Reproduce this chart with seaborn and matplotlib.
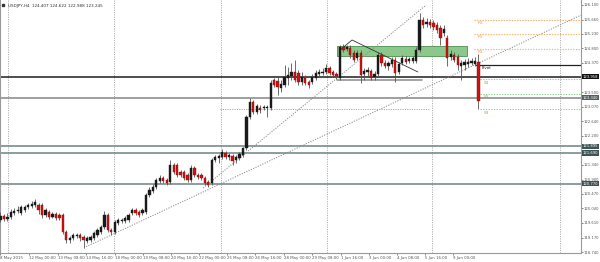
import numpy as np
import matplotlib
matplotlib.use("Agg")
import matplotlib.pyplot as plt
import matplotlib.transforms as mtransforms
from matplotlib.patches import Rectangle
import seaborn as sns

# ---------------- data ----------------
title = "USDJPY,H4  124.407 124.622 122.988 123.245"

opens = [119.70, 119.82, 119.73, 119.79, 119.91, 119.97, 119.91, 120.00, 120.08, 120.11,
         120.14, 120.14, 120.14, 119.85, 119.94, 119.79, 119.88, 119.85, 119.85, 119.34,
         119.10, 119.16, 119.22, 119.25, 119.19, 119.07, 119.10, 119.16, 119.25, 119.34,
         119.49, 119.85, 119.40, 119.34, 119.61, 119.67, 119.67, 119.70, 119.91, 120.00,
         119.94, 119.91, 119.94, 120.44, 120.56, 120.68, 120.86, 120.95, 120.89, 120.83,
         121.33, 121.33, 121.13, 121.13, 121.04, 120.89, 121.24, 121.04, 121.04, 120.95,
         120.83, 120.80, 121.48, 121.54, 121.57, 121.69, 121.57, 121.60, 121.48, 121.54,
         121.63, 121.84, 122.76, 123.21, 122.91, 123.03, 123.03, 123.03, 123.03, 123.86,
         123.83, 123.62, 123.71, 123.92, 123.98, 124.10, 124.07, 123.80, 123.92, 123.80,
         123.80, 123.92, 124.04, 124.07, 124.10, 124.22, 124.10, 124.04, 123.92, 124.84,
         124.78, 124.81, 124.66, 124.52, 124.66, 124.04, 124.10, 124.13, 123.95, 124.04,
         124.60, 124.37, 124.28, 124.34, 124.46, 124.10, 124.37, 124.49, 124.43, 124.43,
         124.43, 124.75, 125.65, 125.53, 125.59, 125.56, 125.50, 125.41, 125.26, 125.11,
         124.55, 124.60, 124.55, 124.28, 124.31, 124.34, 124.37, 124.34, 124.407]

closes = [119.82, 119.73, 119.79, 119.94, 119.97, 120.00, 120.08, 120.08, 120.14, 120.17,
          120.23, 120.00, 119.85, 120.00, 119.79, 119.88, 119.76, 119.76, 119.34, 119.10,
          119.16, 119.25, 119.25, 119.16, 119.10, 119.16, 119.19, 119.31, 119.40, 119.49,
          119.85, 119.40, 119.34, 119.64, 119.70, 119.70, 119.76, 119.85, 120.00, 119.91,
          119.85, 120.00, 120.44, 120.59, 120.68, 120.89, 120.95, 120.86, 120.80, 121.33,
          121.13, 121.04, 121.04, 120.95, 120.89, 121.24, 121.04, 120.98, 120.95, 120.80,
          120.74, 121.48, 121.57, 121.60, 121.72, 121.57, 121.63, 121.45, 121.57, 121.66,
          121.84, 122.76, 123.21, 122.91, 123.09, 122.97, 123.06, 123.06, 123.77, 123.71,
          123.65, 123.74, 123.95, 124.01, 124.10, 123.86, 123.80, 123.95, 123.77, 123.71,
          123.95, 124.07, 124.10, 124.10, 124.22, 124.07, 124.01, 123.98, 124.84, 124.75,
          124.84, 124.60, 124.46, 124.66, 124.01, 124.13, 124.16, 123.92, 124.04, 124.60,
          124.37, 124.28, 124.37, 124.46, 124.07, 124.34, 124.52, 124.40, 124.49, 124.52,
          124.75, 125.65, 125.50, 125.59, 125.50, 125.44, 125.35, 125.11, 125.38, 124.52,
          124.63, 124.46, 124.31, 124.37, 124.40, 124.40, 124.43, 124.43, 123.245]

highs = [119.94, 119.88, 119.91, 120.03, 120.06, 120.11, 120.14, 120.14, 120.20, 120.26,
         120.32, 120.20, 120.20, 120.06, 120.00, 119.94, 119.94, 119.91, 119.91, 119.40,
         119.22, 119.31, 119.31, 119.31, 119.25, 119.22, 119.25, 119.37, 119.46, 119.55,
         119.97, 119.91, 119.46, 119.70, 119.76, 119.76, 119.82, 119.91, 120.06, 120.06,
         120.00, 120.06, 120.50, 120.68, 120.77, 120.95, 121.04, 121.01, 120.95, 121.48,
         121.39, 121.39, 121.19, 121.19, 121.10, 121.33, 121.30, 121.10, 121.10, 121.01,
         120.89, 121.54, 121.63, 121.66, 121.81, 121.75, 121.69, 121.66, 121.63, 121.72,
         121.87, 122.82, 123.33, 123.27, 123.15, 123.12, 123.12, 123.12, 123.86, 123.92,
         123.98, 123.86, 124.31, 124.25, 124.37, 124.46, 124.16, 124.10, 124.01, 123.86,
         124.04, 124.16, 124.19, 124.22, 124.34, 124.28, 124.16, 124.10, 124.90, 124.93,
         124.90, 124.90, 124.75, 124.75, 124.75, 124.22, 124.25, 124.19, 124.13, 124.69,
         124.69, 124.46, 124.43, 124.55, 124.55, 124.40, 124.60, 124.58, 124.55, 124.58,
         124.84, 125.85, 125.73, 125.70, 125.68, 125.65, 125.59, 125.50, 125.50, 125.20,
         124.75, 124.69, 124.63, 124.46, 124.49, 124.52, 124.52, 124.55, 124.622]

lows = [119.64, 119.67, 119.67, 119.73, 119.85, 119.91, 119.85, 119.94, 120.03, 120.06,
        120.08, 119.88, 119.76, 119.79, 119.73, 119.76, 119.70, 119.70, 119.28, 119.01,
        119.01, 119.10, 119.16, 119.07, 118.87, 119.01, 119.04, 119.10, 119.19, 119.28,
        119.43, 119.34, 119.25, 119.28, 119.55, 119.61, 119.61, 119.64, 119.85, 119.85,
        119.79, 119.85, 119.88, 120.38, 120.50, 120.62, 120.80, 120.80, 120.74, 120.77,
        121.07, 120.98, 120.98, 120.89, 120.83, 120.83, 120.98, 120.92, 120.89, 120.74,
        120.68, 120.74, 121.42, 121.39, 121.51, 121.51, 121.48, 121.33, 121.39, 121.48,
        121.57, 121.78, 122.70, 122.85, 122.85, 122.88, 122.97, 122.76, 122.97, 123.65,
        123.42, 123.50, 123.65, 123.71, 123.86, 123.80, 123.71, 123.71, 123.71, 123.62,
        123.74, 123.86, 123.98, 124.01, 124.04, 124.01, 123.95, 123.89, 123.86, 124.69,
        124.72, 124.52, 124.40, 124.46, 123.77, 123.86, 123.98, 123.86, 123.86, 123.98,
        124.28, 124.22, 124.16, 124.25, 123.80, 124.04, 124.31, 124.34, 124.37, 124.37,
        124.37, 124.69, 125.41, 125.44, 125.41, 125.35, 125.26, 124.90, 125.17, 124.28,
        124.46, 124.40, 124.16, 123.86, 124.16, 124.25, 124.31, 124.28, 122.988]

x_labels = ["8 May 2015", "12 May 00:00", "13 May 08:00", "14 May 16:00", "18 May 00:00",
            "19 May 08:00", "20 May 16:00", "22 May 00:00", "25 May 08:00", "26 May 16:00",
            "28 May 00:00", "29 May 08:00", "1 Jun 16:00", "3 Jun 00:00", "4 Jun 08:00",
            "5 Jun 16:00", "9 Jun 00:00"]
x_label_bars = [0, 8.2, 16.6, 24.7, 33.1, 41.1, 49.2, 57.3, 65.4, 73.5, 81.8, 89.9,
                98.3, 106.4, 114.5, 122.5, 130.6]

y_ticks = [126.100, 125.660, 125.230, 124.800, 124.370, 123.500, 123.070, 122.640,
           122.200, 121.340, 120.900, 120.470, 120.040, 119.610, 119.170, 118.740]

# key horizontal levels
level_prices = [123.958, 123.340, 121.895, 121.690, 120.770]
level_labels = ["123.958", "123.340", "121.895", "121.690", "120.770"]

pivot_names = ["R3", "R2", "R1", "Pivot", "S1", "S2", "S3"]
pivot_prices = [125.65, 125.23, 124.78, 124.31, 123.876, 123.44, 122.99]

zone_low, zone_high = 124.58, 124.87
wedge_prices = [124.75, 125.05, 124.10]
flat_line_price = 123.86
purple_price = 122.99
trend_a_prices = [120.65, 126.09]
trend_b_prices = [118.90, 125.79]

# ---------------- figure ----------------
sns.set_theme(style="white")
plt.rcParams["font.family"] = ["DejaVu Sans"]

fig = plt.figure(figsize=(6.0, 2.62), dpi=100)
ax = fig.add_axes([0.0, 9.5 / 262, 581 / 600, 252.5 / 262])
ax.set_xlim(-0.14, 167.6)
ax.set_ylim(118.73, 126.24)

n = len(opens)
idx = np.arange(n)
o = np.array(opens); c = np.array(closes); h = np.array(highs); l = np.array(lows)

# vertical dotted grid
for gx in [2.2, 32.8, 63.7, 94.3, 124.6, 161.5]:
    ax.axvline(gx, color="#b0b0b0", lw=0.7, ls=(0, (1.2, 1.2)), zorder=0)

# full-width horizontal levels
ax.axhline(level_prices[0], color="#1e1e1e", lw=1.1, zorder=1)
ax.axhline(level_prices[1], color="#8f8f8f", lw=1.2, zorder=1)
for p in level_prices[2:]:
    ax.axhline(p, color="#6b8383", lw=1.1, zorder=1)

# green zone
ax.add_patch(Rectangle((97.1, zone_low), 134.7 - 97.1, zone_high - zone_low,
                       facecolor="#8cc78c", edgecolor="#5e9a5e", lw=0.7, zorder=2))

# dotted trend lines
ax.plot([58.5, 122.9], trend_a_prices, color="#8a8a8a", lw=0.7, ls=(0, (1.2, 1.4)), zorder=2)
ax.plot([24.7, 167.6], trend_b_prices, color="#8a8a8a", lw=0.7, ls=(0, (1.2, 1.4)), zorder=2)

# purple dotted line
ax.plot([63.4, 124.0], [purple_price, purple_price], color="#c98ee6", lw=0.7,
        ls=(0, (1.2, 1.2)), zorder=2)

# wedge and flat line
ax.plot([98.0, 101.5, 120.5], wedge_prices, color="#333333", lw=0.6, zorder=2)
ax.plot([97.1, 121.7], [flat_line_price, flat_line_price], color="#8a8a8a", lw=1.1, zorder=2)

# pivot levels
ax.plot([137.3, 167.6], [pivot_prices[3]] * 2, color="#222222", lw=0.9, zorder=2)
for name, p in zip(pivot_names[:3], pivot_prices[:3]):
    ax.plot([136.7, 167.6], [p, p], color="#f7b267", lw=0.8, ls=(0, (1.2, 1.2)), zorder=2)
    ax.text(137.8, p - 0.04, name, color="#f3a24e", fontsize=3.2, va="top", ha="left", zorder=6)
for name, p in zip(pivot_names[4:], pivot_prices[4:]):
    ax.plot([138.5, 167.6], [p, p], color="#8ed48e", lw=0.8, ls=(0, (1.2, 1.2)), zorder=2)
    ax.text(139.4, p - 0.04, name, color="#5fbf5f", fontsize=3.2, va="top", ha="left", zorder=6)
ax.text(138.8, pivot_prices[3] - 0.04, "Pivot", color="#222222", fontsize=2.9, va="top", ha="left",
        zorder=6)

# candles
bull = c >= o
body_bottom = np.minimum(o, c)
body_h = np.maximum(np.abs(c - o), 0.012)
ax.vlines(idx, l, h, color="#555555", lw=0.6, zorder=3)
ax.bar(idx[bull], body_h[bull], bottom=body_bottom[bull], width=0.66,
       color="#1a1a1a", edgecolor="#1a1a1a", lw=0.3, zorder=4)
ax.bar(idx[~bull], body_h[~bull], bottom=body_bottom[~bull], width=0.66,
       color="#d40f0f", edgecolor="#7a1010", lw=0.3, zorder=4)

# axes styling
ax.spines["top"].set_visible(False)
for s in ["left", "right", "bottom"]:
    ax.spines[s].set_color("#9a9a9a")
    ax.spines[s].set_linewidth(0.8)

ax.yaxis.tick_right()
ax.set_yticks(y_ticks)
ax.set_yticklabels([f"{v:.3f}" for v in y_ticks])
ax.tick_params(axis="y", which="both", right=True, length=1.2, width=0.5, pad=0.6,
               labelsize=2.7, colors="#555555")
ax.set_xticks(x_label_bars)
ax.set_xticklabels(x_labels)
ax.tick_params(axis="x", which="both", bottom=True, length=1.5, width=0.5, pad=1.0,
               labelsize=2.8, colors="#555555")
for lbl in ax.get_xticklabels():
    lbl.set_ha("left")

# highlighted right-axis price boxes
trans = mtransforms.blended_transform_factory(ax.transAxes, ax.transData)
box_colors = ["#111111", "#555f5f", "#3e5454", "#3e5454", "#3e5454"]
for p, t, bc in zip(level_prices, level_labels, box_colors):
    ax.text(1.003, p, t, transform=trans, fontsize=2.7, color="white", va="center", ha="left",
            clip_on=False, zorder=10,
            bbox=dict(boxstyle="square,pad=0.15", facecolor=bc, edgecolor="none"))

# title
ax.plot([0.006], [0.982], marker="s", ms=1.8, color="#333333", transform=ax.transAxes, clip_on=False)
ax.text(0.014, 0.986, title, transform=ax.transAxes, fontsize=3.0, color="#333333",
        va="top", ha="left")

fig.savefig("out.png", dpi=100)
